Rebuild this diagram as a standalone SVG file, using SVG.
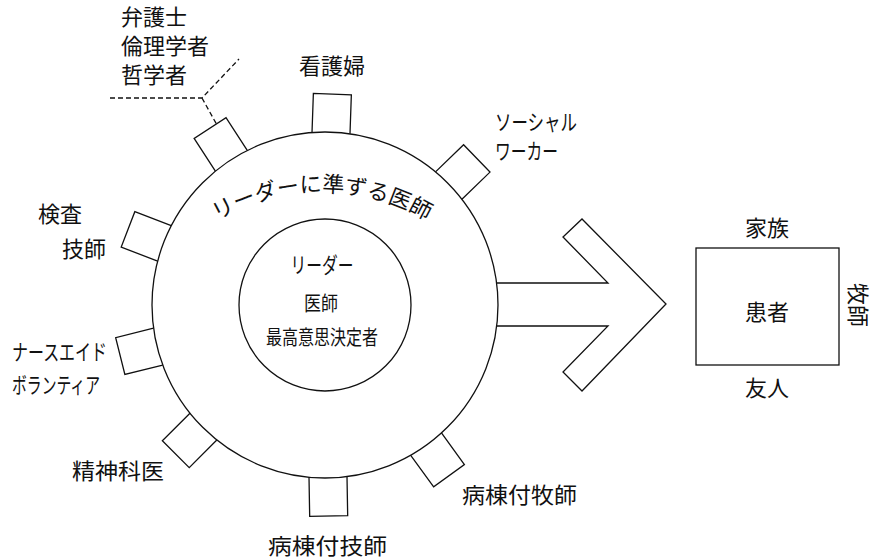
<svg xmlns="http://www.w3.org/2000/svg" width="876" height="560" viewBox="0 0 876 560">
<style>
  .ln{fill:none;stroke:#111;stroke-width:1.3}
  .t{font-family:"Noto Sans CJK JP","Noto Sans",sans-serif;fill:#111;font-size:22px}
  .s{font-size:22px}
  .i{font-size:20px}
  .m{text-anchor:middle}
</style>
<defs>
  <path id="box" d="M172,-19 L211,-19 L211,19 L172,19"/>
  <path id="arc" d="M117,397 A205,205 0 0 1 527,397"/>
</defs>
<rect width="876" height="560" fill="#fff"/>

<g id="outer-circle">
  <circle class="ln" cx="325" cy="305" r="173"/>
  <text class="t" font-size="17"><textPath href="#arc" startOffset="50%" text-anchor="middle">リーダーに準ずる医師</textPath></text>
</g>

<g id="leader">
  <circle class="ln" cx="325" cy="305" r="86"/>
  <text class="t m" font-size="22" x="322" y="273" textLength="63" lengthAdjust="spacingAndGlyphs">リーダー</text>
  <text class="t i m" x="321" y="310.5" textLength="34" lengthAdjust="spacingAndGlyphs">医師</text>
  <text class="t i m" x="322" y="344.5" textLength="112" lengthAdjust="spacingAndGlyphs">最高意思決定者</text>
</g>

<g id="lawyer">
  <use href="#box" class="ln" transform="translate(325,305) rotate(-123)"/>
  <text class="t" x="121" y="24.5" font-size="20" textLength="66" lengthAdjust="spacingAndGlyphs">弁護士</text>
  <text class="t" x="121" y="53.5" font-size="20" textLength="88" lengthAdjust="spacingAndGlyphs">倫理学者</text>
  <text class="t" x="121" y="82.5" font-size="20" textLength="66" lengthAdjust="spacingAndGlyphs">哲学者</text>
</g>

<g id="nurse">
  <use href="#box" class="ln" transform="translate(325,305) rotate(-88)"/>
  <text class="t m" x="332" y="73.5">看護婦</text>
</g>

<g id="social-worker">
  <use href="#box" class="ln" transform="translate(325,305) rotate(-44)"/>
  <text class="t" font-size="20" x="495" y="129.5" textLength="82" lengthAdjust="spacingAndGlyphs">ソーシャル</text>
  <text class="t" font-size="20" x="495" y="158.5" textLength="63" lengthAdjust="spacingAndGlyphs">ワーカー</text>
</g>

<g id="lab-tech">
  <use href="#box" class="ln" transform="translate(325,305) rotate(-159)"/>
  <text class="t" x="38" y="221.5">検査</text>
  <text class="t" x="62" y="256.5">技師</text>
</g>

<g id="nurse-aide">
  <use href="#box" class="ln" transform="translate(325,305) rotate(166)"/>
  <text class="t s" x="12" y="360" textLength="95" lengthAdjust="spacingAndGlyphs">ナースエイド</text>
  <text class="t s" x="12" y="393" textLength="88" lengthAdjust="spacingAndGlyphs">ボランティア</text>
</g>

<g id="psychiatrist">
  <use href="#box" class="ln" transform="translate(325,305) rotate(135)"/>
  <text class="t" x="72" y="478.5" textLength="92" lengthAdjust="spacingAndGlyphs">精神科医</text>
</g>

<g id="ward-tech">
  <use href="#box" class="ln" transform="translate(325,305) rotate(89)"/>
  <text class="t" x="268" y="553.5" textLength="119" lengthAdjust="spacingAndGlyphs">病棟付技師</text>
</g>

<g id="ward-chaplain">
  <use href="#box" class="ln" transform="translate(325,305) rotate(54)"/>
  <text class="t" x="462" y="502.5" textLength="115" lengthAdjust="spacingAndGlyphs">病棟付牧師</text>
</g>

<g id="patient">
  <rect class="ln" x="696" y="248" width="143" height="117"/>
  <text class="t m" x="767" y="236">家族</text>
  <text class="t m" x="767" y="320">患者</text>
  <text class="t m" x="767" y="396">友人</text>
  <text class="t m" font-size="21" transform="translate(850,305) rotate(90)">牧師</text>
</g>

<g id="connectors">
  <path class="ln" stroke-dasharray="5,3" d="M110,98 L202,98 L239,59 M202,98 L217,125"/>
  <path class="ln" d="M497,283 L608,283 L563,237 L582,219 L666,304 L582,391 L563,372 L608,326 L497,326"/>
</g>
</svg>
